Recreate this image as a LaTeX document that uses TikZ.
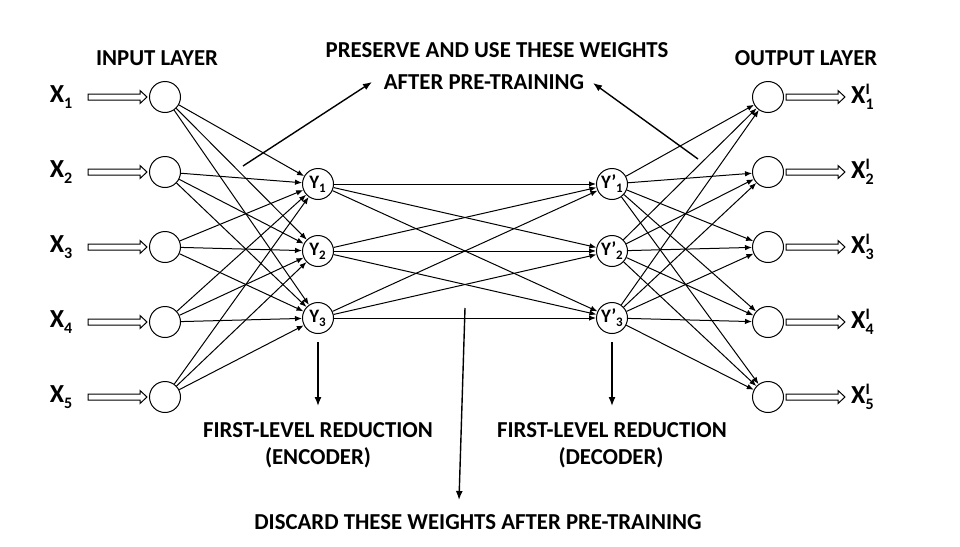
\documentclass[tikz,border=0pt]{standalone}
\usepackage{fontspec}
\setmainfont{Carlito}
\usetikzlibrary{arrows.meta,calc}
\newcommand\lsub[1]{\raisebox{-5.5pt}{\fontsize{16}{16}\selectfont #1}}
\newcommand\lsup[1]{\rlap{\raisebox{9pt}{\fontsize{16}{16}\selectfont #1}}}
\newcommand\ysub[1]{\raisebox{-4pt}{\fontsize{13}{13}\selectfont #1}}
\begin{document}
\begin{tikzpicture}[x=1pt,y=-1pt,
  neuron/.style={circle,draw,line width=1pt,minimum size=31pt,inner sep=0pt},
  conn/.style={-{Latex[length=7pt,width=5.5pt]},line width=1pt},
  note/.style={-{Latex[length=9pt,width=7pt]},line width=1.4pt},
  lbl/.style={font=\fontsize{26}{28}\selectfont\bfseries,inner sep=0pt},
  ylbl/.style={font=\fontsize{19}{20}\selectfont\bfseries},
  txt/.style={font=\fontsize{22.8}{25}\selectfont\bfseries,inner sep=0pt},
  hollow/.style={line width=1pt,draw=black,fill=white}]
\useasboundingbox (0,0) rectangle (960,546);
\newcommand\hollowarrow[2]{%
  \draw[hollow] let \p1=(#1), \p2=(#2) in
    (\x1,\y1+3pt) -- (\x2-7pt,\y1+3pt) -- (\x2-7pt,\y1+6.5pt) -- (\x2,\y1)
    -- (\x2-7pt,\y1-6.5pt) -- (\x2-7pt,\y1-3pt) -- (\x1,\y1-3pt) -- cycle;}
% input / output nodes
\foreach \i/\yy in {1/97,2/172,3/247,4/322,5/397}{
  \node[neuron] (in\i) at (165,\yy) {};
  \node[neuron] (out\i) at (768,\yy) {};
  \node[lbl] (x\i) at (61,\yy) {X\lsub{\i}};
  \node[lbl,anchor=west] (xo\i) at (851,\yy) {X\lsup{I}\lsub{\i}};
  \coordinate (ia\i) at (88,\yy);
  \coordinate (oa\i) at (845,\yy);
}
\foreach \j/\yy in {1/184,2/251,3/318}{
  \node[neuron,ylbl] (y\j) at (318,\yy) {\hspace{-1pt}Y\ysub{\j}};
  \node[neuron,ylbl] (z\j) at (612,\yy) {Y’\ysub{\j}};
}
\foreach \i in {1,...,5}{
  \path let \p1=(in\i.west) in coordinate (ie\i) at (\x1-2pt,\y1);
  \hollowarrow{ia\i}{ie\i}
  \path let \p1=(out\i.east) in coordinate (os\i) at (\x1+2pt,\y1);
  \hollowarrow{os\i}{oa\i}
}
% connections
\foreach \i in {1,...,5}{
  \foreach \j in {1,2,3}{
    \draw[conn] (in\i) -- (y\j);
    \draw[conn] (z\j) -- (out\i);
  }
}
\foreach \i in {1,2,3}{
  \foreach \j in {1,2,3}{
    \draw[conn] (y\i) -- (z\j);
  }
}
% texts
\node[txt] (inl) at (157,58) {INPUT LAYER};
\node[txt] (outl) at (806,58) {OUTPUT LAYER};
\node[txt] (pres1) at (497,50) {PRESERVE AND USE THESE WEIGHTS};
\node[txt] (pres2) at (484,82) {AFTER PRE-TRAINING};
\node[txt] (enc1) at (318,430) {FIRST-LEVEL REDUCTION};
\node[txt] (enc2) at (318,458) {(ENCODER)};
\node[txt] (dec1) at (612,430) {FIRST-LEVEL REDUCTION};
\node[txt] (dec2) at (611,458) {(DECODER)};
\node[txt] (disc) at (478,522) {DISCARD THESE WEIGHTS AFTER PRE-TRAINING};
% note arrows
\coordinate (n1s) at (243,166);
\coordinate (n1e) at (372,82);
\coordinate (n2s) at (698,159);
\coordinate (n2e) at (593,83);
\coordinate (d1s) at (318,342);
\coordinate (d1e) at (318,406);
\coordinate (d2s) at (612,342);
\coordinate (d2e) at (612,406);
\coordinate (d3s) at (465,308);
\coordinate (d3e) at (459,500);
\draw[note] (n1s) -- (n1e);
\draw[note] (n2s) -- (n2e);
\draw[note] (d1s) -- (d1e);
\draw[note] (d2s) -- (d2e);
\draw[note] (d3s) -- (d3e);
\end{tikzpicture}
\end{document}
